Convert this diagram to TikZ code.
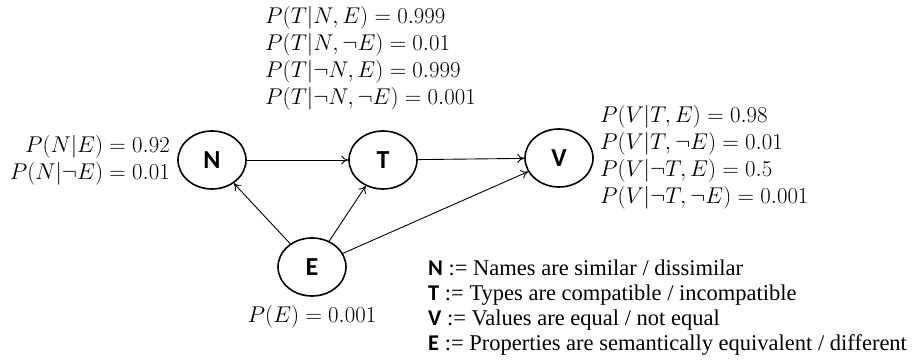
\documentclass[tikz,border=0pt]{standalone}
\usepackage{fix-cm}
\usepackage{fontspec}
\setmainfont{Liberation Serif}
\newfontfamily\lblfont{Carlito}
\usetikzlibrary{shapes.geometric,arrows.meta}
\begin{document}
\begin{tikzpicture}[x=1pt,y=1pt,
  var/.style={ellipse,draw,line width=1.6pt,minimum width=68pt,minimum height=58pt,inner sep=0pt,font=\lblfont\bfseries\fontsize{26}{26}\selectfont},
  cpt/.style={inner sep=0pt,align=left,font=\fontsize{22.8}{27}\selectfont},
  edge/.style={line width=0.9pt,-{To[length=7pt,width=9pt,line width=0.9pt]}},
  legend/.style={inner sep=0pt,align=left,font=\fontsize{22.5}{25}\selectfont}]
\useasboundingbox (0,0) rectangle (915,363);
\node[var] (N) at (212,203) {N};
\node[var] (T) at (383,203) {T};
\node[var] (V) at (559,205) {V};
\node[var] (E) at (312,96) {E};
\draw[edge] (N) -- (T);
\draw[edge] (T) -- (V);
\draw[edge] (E) -- (N);
\draw[edge] (E) -- (T);
\draw[edge] (E) -- (V);
\node[cpt,anchor=west] (cptT) at (265,305) {$P(T|N,E)=0.999$\\$P(T|N,\neg E)=0.01$\\$P(T|\neg N,E)=0.999$\\$P(T|\neg N,\neg E)=0.001$};
\node[cpt,anchor=east,align=right] (cptN) at (170,202.5) {$P(N|E)=0.92$\\$P(N|\neg E)=0.01$};
\node[cpt,anchor=west] (cptV) at (600,205.5) {$P(V|T,E)=0.98$\\$P(V|T,\neg E)=0.01$\\$P(V|\neg T,E)=0.5$\\$P(V|\neg T,\neg E)=0.001$};
\node[cpt] (cptE) at (312,46) {$P(E)=0.001$};
\node[legend,anchor=west] (leg) at (428,55.5) {{\lblfont\bfseries N} := Names are similar / dissimilar\\{\lblfont\bfseries T} := Types are compatible / incompatible\\{\lblfont\bfseries V} := Values are equal / not equal\\{\lblfont\bfseries E} := Properties are semantically equivalent / different};
\end{tikzpicture}
\end{document}
